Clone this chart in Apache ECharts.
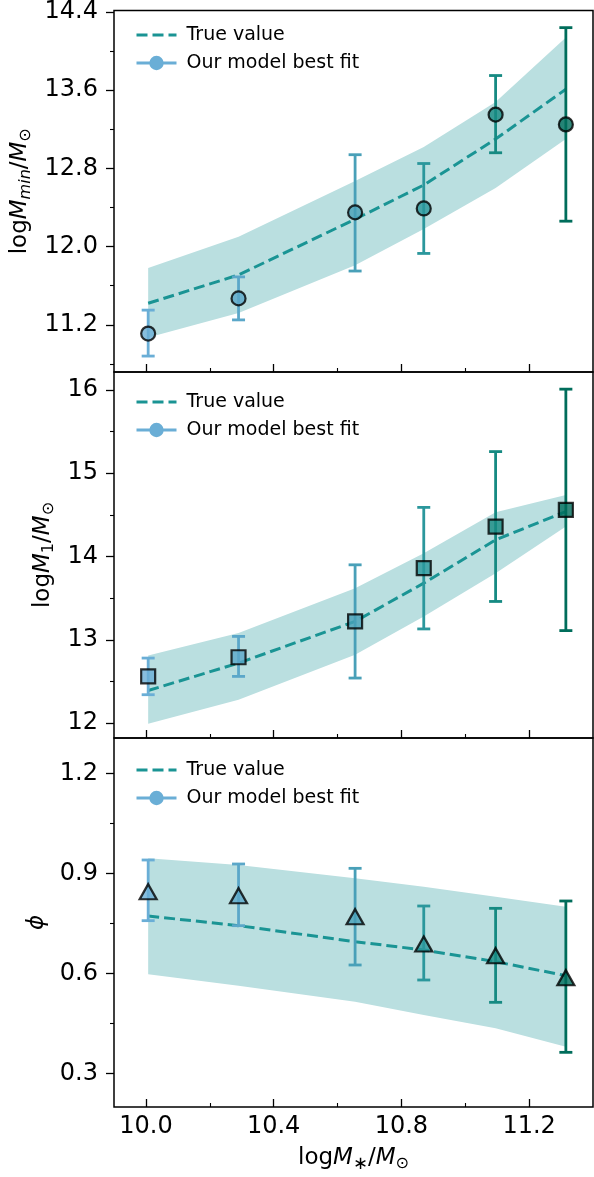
<!DOCTYPE html>
<html>
<head>
<meta charset="utf-8">
<script src="https://cdn.jsdelivr.net/npm/echarts@6/dist/echarts.min.js"></script>
<style>
html,body{margin:0;padding:0;background:#fff;}
#chart{width:594px;height:1177px;}
</style>
</head>
<body>
<div id="chart"></div>
<script>
// ---- data ----
const xs = [10.007, 10.29, 10.655, 10.87, 11.095, 11.315];
const pointColors = ["#6aaed6", "#5ba7c9", "#49a0b8", "#2b979c", "#168a82", "#006d5b"];

const trueMmin   = [11.42, 11.71, 12.28, 12.63, 13.10, 13.61];
const bandMminHi = [11.78, 12.10, 12.67, 13.02, 13.48, 14.14];
const bandMminLo = [11.07, 11.32, 11.81, 12.18, 12.60, 13.10];
const fitMmin    = [11.11, 11.47, 12.35, 12.39, 13.35, 13.25];
const errMminHi  = [11.35, 11.69, 12.94, 12.85, 13.75, 14.24];
const errMminLo  = [10.88, 11.25, 11.75, 11.93, 12.96, 12.26];

const trueM1   = [12.39, 12.72, 13.22, 13.68, 14.20, 14.54];
const bandM1Hi = [12.81, 13.08, 13.62, 14.04, 14.53, 14.74];
const bandM1Lo = [11.99, 12.28, 12.82, 13.28, 13.80, 14.36];
const fitM1    = [12.56, 12.79, 13.22, 13.86, 14.36, 14.56];
const errM1Hi  = [12.78, 13.04, 13.90, 14.59, 15.26, 16.01];
const errM1Lo  = [12.34, 12.56, 12.54, 13.13, 13.46, 13.11];

const truePhi   = [0.772, 0.743, 0.695, 0.670, 0.635, 0.593];
const bandPhiHi = [0.945, 0.925, 0.885, 0.860, 0.830, 0.800];
const bandPhiLo = [0.597, 0.563, 0.515, 0.475, 0.435, 0.380];
const fitPhi    = [0.845, 0.833, 0.770, 0.688, 0.653, 0.587];
const errPhiHi  = [0.940, 0.928, 0.915, 0.802, 0.795, 0.817];
const errPhiLo  = [0.758, 0.743, 0.625, 0.580, 0.513, 0.363];

const xMajorTicks = [10.0, 10.4, 10.8, 11.2];
const xMinorTicks = [10.2, 10.6, 11.0];
const yTicksMmin = [11.2, 12.0, 12.8, 13.6, 14.4];
const yMinorMmin = [10.8, 11.6, 12.4, 13.2, 14.0];
const yTicksM1 = [12, 13, 14, 15, 16];
const yMinorM1 = [12.5, 13.5, 14.5, 15.5];
const yTicksPhi = [0.3, 0.6, 0.9, 1.2];
const yMinorPhi = [0.45, 0.75, 1.05];

// ---- styling ----
const FONT = "DejaVu Sans";
const trueColor = "#1a9494";
const bandColor = "#badfe0";
const legendMarkerColor = "#6aaed6";

const grids = [
  {left:114, right:1, top:5, height:367},
  {left:114, right:1, top:372, height:366},
  {left:114, right:1, top:738, height:369}
];

const panels = [
  {yMin:10.717, yMax:14.415, ticks:yTicksMmin, minor:yMinorMmin, fmt:v=>v.toFixed(1),
   tru:trueMmin, hi:bandMminHi, lo:bandMminLo, fit:fitMmin, eHi:errMminHi, eLo:errMminLo,
   symbol:'circle', symbolSize:14, nameGap:76,
   name:'{n|log}{i|M}{s|min}{n|/}{i|M}{s2|⊙}'},
  {yMin:11.82, yMax:16.216, ticks:yTicksM1, minor:yMinorM1, fmt:v=>String(v),
   tru:trueM1, hi:bandM1Hi, lo:bandM1Lo, fit:fitM1, eHi:errM1Hi, eLo:errM1Lo,
   symbol:'rect', symbolSize:14, nameGap:56,
   name:'{n|log}{i|M}{s2|1}{n|/}{i|M}{s2|⊙}'},
  {yMin:0.199, yMax:1.306, ticks:yTicksPhi, minor:yMinorPhi, fmt:v=>v.toFixed(1),
   tru:truePhi, hi:bandPhiHi, lo:bandPhiLo, fit:fitPhi, eHi:errPhiHi, eLo:errPhiLo,
   symbol:'triangle', symbolSize:[17,15], nameGap:64,
   name:'{i|ϕ}'}
];

const nameRich = {
  n:{fontFamily:FONT, fontSize:23, color:'#000'},
  i:{fontFamily:FONT, fontSize:23, fontStyle:'italic', color:'#000'},
  s:{fontFamily:FONT, fontSize:16, fontStyle:'italic', color:'#000', padding:[11,0,0,0]},
  s2:{fontFamily:FONT, fontSize:16, color:'#000', padding:[11,0,0,0]},
  s3:{fontFamily:FONT, fontSize:18, color:'#000', padding:[11,0,0,0]}
};

const xAxes = [], yAxes = [], series = [], legends = [];
const legendTops = [19, 386, 754];

panels.forEach((p, g) => {
  const isBottom = g === 2;
  xAxes.push({
    type:'value', gridIndex:g, min:9.9, max:11.4, position:'bottom',
    axisLine:{show:false}, splitLine:{show:false},
    axisTick:{show:true, inside:true, length:8, customValues:xMajorTicks, lineStyle:{color:'#000', width:1.3}},
    axisLabel:{show:isBottom, customValues:xMajorTicks, formatter:v=>v.toFixed(1), margin:8,
      fontFamily:FONT, fontSize:24, color:'#000'},
    name: isBottom ? '{n|log}{i|M}{s3|∗}{n|/}{i|M}{s2|⊙}' : '',
    nameLocation:'middle', nameGap:37,
    nameTextStyle:{rich:nameRich}
  });
  xAxes.push({
    type:'value', gridIndex:g, min:9.9, max:11.4, position:'bottom',
    axisLine:{show:false}, splitLine:{show:false},
    axisTick:{show:true, inside:true, length:4, customValues:xMinorTicks, lineStyle:{color:'#000', width:1.1}},
    axisLabel:{show:false, customValues:xMinorTicks}
  });
  yAxes.push({
    type:'value', gridIndex:g, min:p.yMin, max:p.yMax, position:'left',
    axisLine:{show:false}, splitLine:{show:false},
    axisTick:{show:true, inside:false, length:8, customValues:p.ticks, lineStyle:{color:'#000', width:1.3}},
    axisLabel:{customValues:p.ticks, formatter:p.fmt, margin:16, fontFamily:FONT, fontSize:24, color:'#000'},
    name:p.name, nameLocation:'middle', nameRotate:90, nameGap:p.nameGap,
    nameTextStyle:{rich:nameRich}
  });
  yAxes.push({
    type:'value', gridIndex:g, min:p.yMin, max:p.yMax, position:'left',
    axisLine:{show:false}, splitLine:{show:false},
    axisTick:{show:true, inside:false, length:4, customValues:p.minor, lineStyle:{color:'#000', width:1.1}},
    axisLabel:{show:false, customValues:p.minor}
  });
  const xi = g*2, yi = g*2;
  // band
  series.push({
    type:'custom', xAxisIndex:xi, yAxisIndex:yi, z:1, silent:true,
    data: xs.map((x,i)=>[x, p.lo[i], p.hi[i]]),
    renderItem:(params, api)=>{
      if (params.dataIndex !== 0) return null;
      const pts = [];
      for (let i=0;i<xs.length;i++) pts.push(api.coord([xs[i], p.hi[i]]));
      for (let i=xs.length-1;i>=0;i--) pts.push(api.coord([xs[i], p.lo[i]]));
      return {type:'polygon', shape:{points:pts}, style:{fill:bandColor}};
    }
  });
  // true value
  series.push({
    name:'True value', type:'line', xAxisIndex:xi, yAxisIndex:yi, z:3,
    data: xs.map((x,i)=>[x, p.tru[i]]),
    symbol:'none', color:trueColor,
    lineStyle:{color:trueColor, width:3, type:[11,5]}
  });
  // legend dummy for fit
  series.push({
    name:'Our model best fit', type:'line', xAxisIndex:xi, yAxisIndex:yi,
    data:[], symbol:'circle', symbolSize:14, color:legendMarkerColor,
    itemStyle:{color:legendMarkerColor}, lineStyle:{color:legendMarkerColor, width:3}
  });
  // error bars
  series.push({
    type:'custom', xAxisIndex:xi, yAxisIndex:yi, z:4, silent:true,
    data: xs.map((x,i)=>[x, p.eLo[i], p.eHi[i]]),
    renderItem:(params, api)=>{
      const x = api.value(0);
      const a = api.coord([x, api.value(1)]);
      const b = api.coord([x, api.value(2)]);
      const c = pointColors[params.dataIndex];
      const hw = 6.5;
      const st = {stroke:c, lineWidth:2.8};
      return {type:'group', children:[
        {type:'line', shape:{x1:a[0], y1:a[1], x2:b[0], y2:b[1]}, style:st},
        {type:'line', shape:{x1:a[0]-hw, y1:a[1], x2:a[0]+hw, y2:a[1]}, style:st},
        {type:'line', shape:{x1:b[0]-hw, y1:b[1], x2:b[0]+hw, y2:b[1]}, style:st}
      ]};
    }
  });
  // markers
  series.push({
    type:'scatter', xAxisIndex:xi, yAxisIndex:yi, z:5, silent:true,
    symbol:p.symbol, symbolSize:p.symbolSize,
    data: xs.map((x,i)=>({value:[x, p.fit[i]], itemStyle:{color:pointColors[i], borderColor:'#000', borderWidth:2.2}}))
  });
  legends.push({
    orient:'vertical', left:130, top:legendTops[g], itemWidth:40, itemHeight:18, itemGap:6,
    data:[
      {name:'True value', itemStyle:{opacity:0}, lineStyle:{width:3, type:[11,5], color:trueColor}},
      {name:'Our model best fit', lineStyle:{width:3, color:legendMarkerColor}}
    ],
    textStyle:{fontFamily:FONT, fontSize:19, color:'#000', lineHeight:22, padding:[0,0,0,5]},
    selectedMode:false
  });
});

const chart = echarts.init(document.getElementById('chart'), null, {renderer:'canvas'});
chart.setOption({
  animation:false,
  backgroundColor:'#fff',
  grid: grids.map(g=>Object.assign({show:true, borderColor:'#000', borderWidth:1.5, backgroundColor:'transparent'}, g)),
  xAxis:xAxes, yAxis:yAxes, series:series, legend:legends
});
</script>
</body>
</html>
